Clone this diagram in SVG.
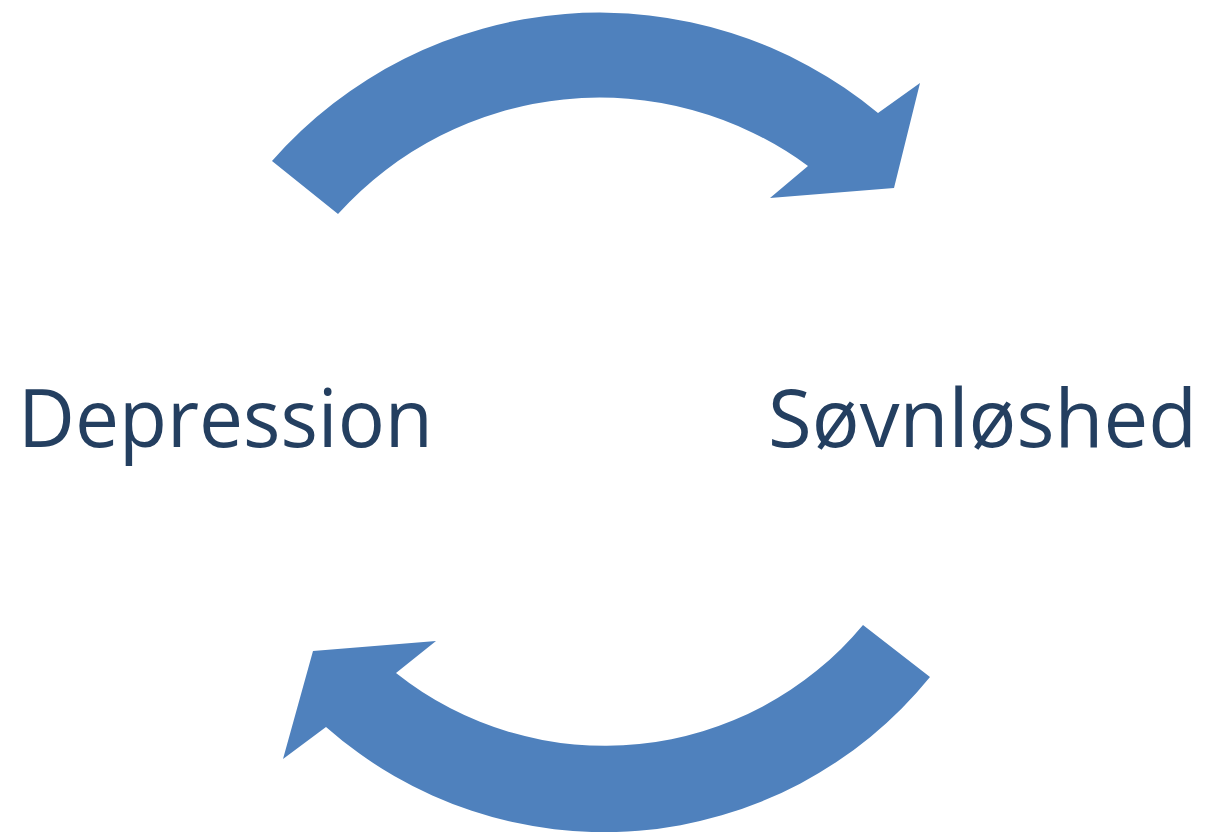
<svg xmlns="http://www.w3.org/2000/svg" width="1205" height="832" viewBox="0 0 1205 832">
<style>
.arrow{fill:#4F81BD;stroke:none}
.lbl{font-family:"Open Sans","Noto Sans","Liberation Sans",sans-serif;font-size:81px;fill:#243F60}
</style>
<rect width="1205" height="832" fill="#ffffff"/>
<g id="connectors">
<path id="arrow-top" class="arrow" d="M 272,161 A 436 436 0 0 1 878,113 L 920,83 L 894,188 L 770,198 L 808,166 A 352 352 0 0 0 338,214 Z"/>
<path id="arrow-bottom" class="arrow" d="M 930,677 A 420 420 0 0 1 326,727 L 283,759 L 313,651 L 436,641 L 396,673 A 336 336 0 0 0 863,625 Z"/>
</g>
<g id="node-depression">
<text class="lbl" x="18" y="447" textLength="415" lengthAdjust="spacingAndGlyphs">Depression</text>
</g>
<g id="node-sovnloshed">
<text class="lbl" x="768" y="447" textLength="429" lengthAdjust="spacingAndGlyphs">Søvnløshed</text>
</g>
</svg>
